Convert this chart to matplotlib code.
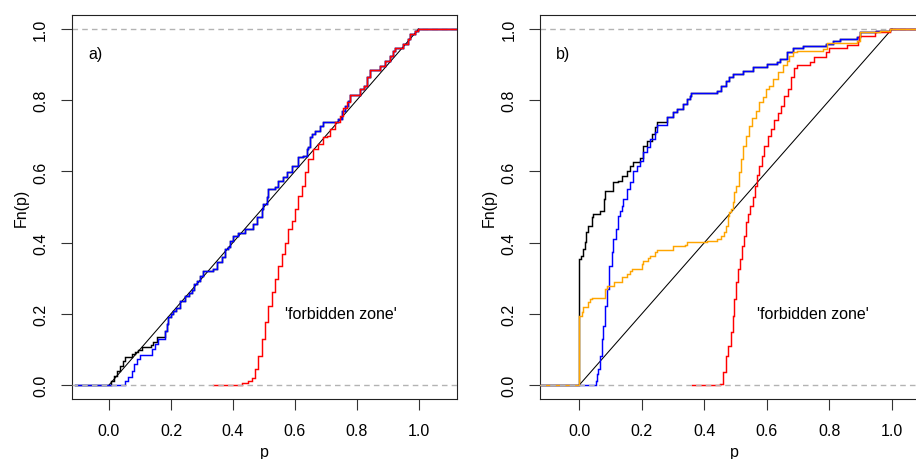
import matplotlib
matplotlib.use('Agg')
import matplotlib.pyplot as plt

plt.rcParams['font.family'] = ['Liberation Sans', 'DejaVu Sans']

# ---------------- panel a) ----------------
black_a_x = [-0.11, 0.005, 0.015, 0.025, 0.036, 0.046, 0.052, 0.075, 0.084, 0.095, 0.105,
             0.135, 0.143, 0.154, 0.181, 0.186, 0.192]
black_a_y = [0.0, 0.012, 0.026, 0.040, 0.054, 0.068, 0.078, 0.087, 0.094, 0.098, 0.106,
             0.113, 0.120, 0.134, 0.153, 0.170, 0.190]
blue_a_x = [-0.11, 0.052, 0.062, 0.073, 0.082, 0.089, 0.100, 0.138, 0.149, 0.159, 0.181,
            0.186, 0.192]
blue_a_y = [0.0, 0.011, 0.022, 0.040, 0.059, 0.073, 0.084, 0.101, 0.115, 0.129, 0.153,
            0.170, 0.190]
# part shared by black and blue
mid_a_x = [0.200, 0.208, 0.215, 0.229, 0.245, 0.258, 0.267, 0.275, 0.283, 0.295, 0.305,
           0.337, 0.348, 0.364, 0.375, 0.385, 0.391, 0.401, 0.418, 0.440, 0.466, 0.477,
           0.493, 0.498, 0.509, 0.514, 0.536, 0.547, 0.563, 0.574, 0.590, 0.609, 0.627,
           0.638, 0.644, 0.649, 0.654, 0.665, 0.681, 0.692, 0.741, 0.751, 0.762, 0.773,
           0.778]
mid_a_y = [0.200, 0.209, 0.215, 0.237, 0.251, 0.258, 0.268, 0.283, 0.293, 0.305, 0.321,
           0.326, 0.345, 0.359, 0.382, 0.387, 0.405, 0.419, 0.426, 0.438, 0.452, 0.471,
           0.494, 0.508, 0.527, 0.551, 0.555, 0.574, 0.583, 0.597, 0.614, 0.640, 0.644,
           0.663, 0.668, 0.696, 0.705, 0.714, 0.728, 0.740, 0.747, 0.771, 0.785, 0.799,
           0.815]
red_a_x = [0.337, 0.430, 0.450, 0.461, 0.472, 0.482, 0.493, 0.504, 0.515, 0.525, 0.536,
           0.547, 0.557, 0.568, 0.579, 0.590, 0.600, 0.611, 0.622, 0.633, 0.643, 0.659,
           0.676, 0.690, 0.703, 0.714, 0.730, 0.745, 0.756, 0.767, 0.778]
red_a_y = [0.0, 0.006, 0.012, 0.021, 0.045, 0.082, 0.129, 0.176, 0.223, 0.260, 0.298,
           0.335, 0.368, 0.400, 0.438, 0.462, 0.494, 0.532, 0.560, 0.597, 0.635, 0.663,
           0.677, 0.696, 0.700, 0.719, 0.738, 0.757, 0.777, 0.794, 0.815]
# upper tail shared by all three
tail_a_x = [0.811, 0.822, 0.832, 0.843, 0.875, 0.891, 0.907, 0.918, 0.923, 0.950, 0.966,
            0.971, 0.987, 0.998]
tail_a_y = [0.831, 0.841, 0.864, 0.886, 0.897, 0.911, 0.925, 0.939, 0.946, 0.958, 0.972,
            0.986, 0.993, 1.000]

# ---------------- panel b) ----------------
black_b_x = [-0.125, 0.000, 0.007, 0.013, 0.018, 0.023, 0.029, 0.040, 0.045, 0.066, 0.079,
             0.082, 0.109, 0.125, 0.136, 0.152, 0.162, 0.173, 0.194, 0.205, 0.218, 0.231,
             0.242, 0.250]
black_b_y = [0.0, 0.354, 0.363, 0.382, 0.401, 0.429, 0.448, 0.471, 0.480, 0.490, 0.522,
             0.546, 0.569, 0.574, 0.588, 0.602, 0.616, 0.626, 0.639, 0.672, 0.684, 0.705,
             0.724, 0.740]
blue_b_x = [-0.125, 0.053, 0.058, 0.061, 0.066, 0.072, 0.077, 0.082, 0.090, 0.096, 0.104,
            0.109, 0.117, 0.125, 0.130, 0.136, 0.141, 0.152, 0.162, 0.173, 0.184, 0.194,
            0.205, 0.216, 0.226, 0.242, 0.250]
blue_b_y = [0.0, 0.010, 0.030, 0.045, 0.082, 0.129, 0.167, 0.223, 0.270, 0.335, 0.373,
            0.410, 0.438, 0.476, 0.490, 0.504, 0.522, 0.551, 0.569, 0.602, 0.616, 0.630,
            0.654, 0.668, 0.691, 0.710, 0.730]
shared_b_x = [0.279, 0.301, 0.311, 0.333, 0.343, 0.354, 0.357, 0.439, 0.452, 0.470, 0.480,
              0.492, 0.524, 0.556, 0.599, 0.631, 0.642, 0.663, 0.684, 0.716, 0.790, 0.812,
              0.833, 0.887, 0.898, 0.950, 0.993]
shared_b_y = [0.752, 0.766, 0.775, 0.789, 0.803, 0.813, 0.820, 0.827, 0.841, 0.855, 0.864,
              0.874, 0.883, 0.892, 0.902, 0.906, 0.916, 0.934, 0.948, 0.952, 0.958, 0.967,
              0.972, 0.977, 0.991, 0.995, 1.000]
orange_b_x = [-0.125, 0.000, 0.008, 0.013, 0.029, 0.034, 0.040, 0.082, 0.088, 0.111, 0.136,
              0.152, 0.162, 0.168, 0.200, 0.205, 0.221, 0.226, 0.242, 0.248, 0.300, 0.337,
              0.343, 0.407, 0.440, 0.452, 0.463, 0.468, 0.474, 0.479, 0.484, 0.490, 0.496,
              0.501, 0.510, 0.517, 0.525, 0.533, 0.542, 0.552, 0.565, 0.576, 0.586, 0.597,
              0.608, 0.618, 0.634, 0.650, 0.663, 0.672, 0.682, 0.695, 0.780, 0.791, 0.887,
              0.898, 0.962, 0.993]
orange_b_y = [0.0, 0.195, 0.204, 0.218, 0.232, 0.242, 0.245, 0.270, 0.279, 0.290, 0.302,
              0.312, 0.321, 0.326, 0.340, 0.349, 0.356, 0.363, 0.373, 0.380, 0.390, 0.393,
              0.401, 0.405, 0.410, 0.418, 0.429, 0.448, 0.476, 0.485, 0.494, 0.513, 0.541,
              0.560, 0.597, 0.634, 0.672, 0.700, 0.728, 0.750, 0.770, 0.794, 0.810, 0.831,
              0.841, 0.860, 0.878, 0.900, 0.911, 0.925, 0.934, 0.939, 0.944, 0.962, 0.967,
              0.991, 0.995, 1.000]
red_b_x = [0.360, 0.450, 0.461, 0.469, 0.477, 0.484, 0.491, 0.495, 0.501, 0.509, 0.514,
           0.519, 0.527, 0.533, 0.540, 0.546, 0.554, 0.561, 0.568, 0.575, 0.583, 0.592,
           0.603, 0.612, 0.622, 0.634, 0.645, 0.655, 0.666, 0.677, 0.687, 0.695, 0.738,
           0.750, 0.790, 0.800, 0.855, 0.890, 0.895, 0.947, 0.993]
red_b_y = [0.0, 0.003, 0.036, 0.082, 0.110, 0.148, 0.195, 0.242, 0.288, 0.326, 0.354,
           0.391, 0.419, 0.457, 0.480, 0.504, 0.527, 0.560, 0.590, 0.616, 0.644, 0.672,
           0.700, 0.720, 0.745, 0.765, 0.785, 0.813, 0.831, 0.865, 0.890, 0.900, 0.906,
           0.920, 0.934, 0.948, 0.955, 0.967, 0.981, 0.991, 1.000]

panel_labels = ['a)', 'b)']
zone_text = "'forbidden zone'"
ticks = [0.0, 0.2, 0.4, 0.6, 0.8, 1.0]

W, H = 916, 460
fig = plt.figure(figsize=(W / 100, H / 100), dpi=100)

FS = 11.5
GRAY = '#B3B3B3'


def make_ax(left_px, right_px, x0_px, unit_px):
    ax = fig.add_axes([left_px / W, (H - 400) / H, (right_px - left_px) / W, (400 - 15.7) / H])
    ax.set_xlim((left_px - x0_px) / unit_px, (right_px - x0_px) / unit_px)
    ax.set_ylim(-14.0 / 356, 1 + 14.3 / 356)
    ax.set_xticks(ticks)
    ax.set_yticks(ticks)
    ax.set_xticklabels([f'{t:.1f}' for t in ticks])
    ax.set_yticklabels([f'{t:.1f}' for t in ticks], rotation=90, va='center')
    ax.tick_params(direction='out', length=7.7, width=0.8, labelsize=FS, pad=9.5,
                   color='#333333')
    for s in ax.spines.values():
        s.set_linewidth(0.8)
        s.set_color('#222222')
    ax.set_xlabel('p', fontsize=FS, labelpad=4.5)
    ax.set_ylabel('Fn(p)', fontsize=FS, labelpad=3)
    return ax


def ecdf_line(ax, xs, ys, color, lw=1.05, z=2):
    xmax = ax.get_xlim()[1]
    ax.step(list(xs) + [xmax], list(ys) + [ys[-1]], where='post', color=color, lw=lw,
            zorder=z, solid_joinstyle='miter')


def ref_lines(ax):
    ax.axhline(1.0, color=GRAY, lw=1.0, ls=(0, (4, 3)), zorder=1)
    ax.axhline(0.0, color=GRAY, lw=1.0, ls=(0, (4, 3)), zorder=10)
    ax.plot([0, 1], [0, 1], color='black', lw=0.75, zorder=3)


# panel a
ax1 = make_ax(72, 457, 109, 309.7)
ref_lines(ax1)
ecdf_line(ax1, black_a_x + mid_a_x + tail_a_x, black_a_y + mid_a_y + tail_a_y, 'black', z=4)
ecdf_line(ax1, blue_a_x + mid_a_x + tail_a_x, blue_a_y + mid_a_y + tail_a_y, 'blue', z=5)
ecdf_line(ax1, red_a_x + tail_a_x, red_a_y + tail_a_y, 'red', z=6)
ax1.text(-0.045, 0.93, panel_labels[0], fontsize=FS, ha='center', va='center')
ax1.text(0.748, 0.20, zone_text, fontsize=FS, ha='center', va='center')

# panel b
ax2 = make_ax(540.3, 929.0, 579.3, 312.7)
ref_lines(ax2)
ecdf_line(ax2, black_b_x + shared_b_x, black_b_y + shared_b_y, 'black', z=4)
ecdf_line(ax2, blue_b_x + shared_b_x, blue_b_y + shared_b_y, 'blue', z=5)
ecdf_line(ax2, red_b_x, red_b_y, 'red', z=6)
ecdf_line(ax2, orange_b_x, orange_b_y, 'orange', z=7)
ax2.text(-0.051, 0.93, panel_labels[1], fontsize=FS, ha='center', va='center')
ax2.text(0.748, 0.20, zone_text, fontsize=FS, ha='center', va='center')

fig.savefig('out.png', dpi=100)
